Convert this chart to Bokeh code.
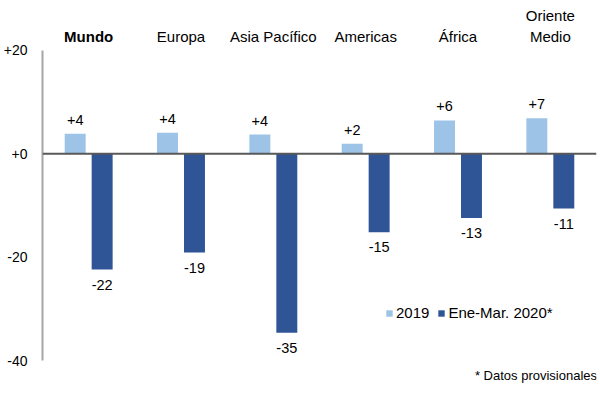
import numpy as np
from bokeh.plotting import figure
from bokeh.models import (Range1d, LinearAxis, FixedTicker, Span, Legend, LegendItem,
                          ColumnDataSource, Label)
from bokeh.core.properties import value
from bokeh.embed import file_html
from bokeh.resources import INLINE

categories = ["Mundo", "Europa", "Asia Pacífico", "Americas", "África", "Oriente\nMedio"]
cat_styles = ["bold", "normal", "normal", "normal", "normal", "normal"]
values_2019 = [3.87, 4.06, 3.73, 1.93, 6.45, 6.89]
values_2020 = [-22.4, -19.1, -34.6, -15.2, -12.4, -10.6]
labels_2019 = ["+4", "+4", "+4", "+2", "+6", "+7"]
labels_2020 = ["-22", "-19", "-35", "-15", "-13", "-11"]
series_names = ["2019", "Ene-Mar. 2020*"]
y_ticks = [-40, -20, 0, 20]
y_tick_labels = ["-40", "-20", "+0", "+20"]
footnote = "* Datos provisionales"

FONT = "Liberation Sans"
LIGHT = "#9dc3e6"
DARK = "#2f5597"

n = len(categories)
xc = np.arange(n) + 0.5
off = 0.146
bw = 0.227

p = figure(width=600, height=400, output_backend="svg", toolbar_location=None,
           x_range=Range1d(0, n), y_range=Range1d(-47.72, 29.65),
           min_border_left=40, min_border_right=4, min_border_top=0, min_border_bottom=0,
           x_axis_location=None, y_axis_location=None)
p.outline_line_color = None
p.xgrid.visible = False
p.ygrid.visible = False
p.background_fill_color = "white"
p.border_fill_color = "white"

yaxis = LinearAxis(ticker=FixedTicker(ticks=y_ticks), bounds=(-40, 20),
                   major_label_overrides={t: l for t, l in zip(y_ticks, y_tick_labels)})
yaxis.axis_line_color = "#a6a6a6"
yaxis.axis_line_width = 2
yaxis.major_tick_line_color = None
yaxis.minor_tick_line_color = None
yaxis.major_tick_out = 0
yaxis.major_tick_in = 0
yaxis.minor_tick_out = 0
yaxis.minor_tick_in = 0
yaxis.major_label_standoff = 15
yaxis.major_label_text_font = FONT
yaxis.major_label_text_font_size = "14px"
yaxis.major_label_text_color = "#000000"
p.add_layout(yaxis, "left")

src = ColumnDataSource(dict(x1=xc - off, x2=xc + off, v1=values_2019, v2=values_2020,
                            l1=labels_2019, l2=labels_2020, xc=xc,
                            cat=categories, style=cat_styles))

r1 = p.vbar(x="x1", top="v1", bottom=0, width=bw, source=src, fill_color=LIGHT, line_color=None)
r2 = p.vbar(x="x2", top=0, bottom="v2", width=bw, source=src, fill_color=DARK, line_color=None)

p.add_layout(Span(location=0, dimension="width", line_color="#595959", line_width=2))

p.text(x="x1", y="v1", text="l1", source=src, text_align="center", text_baseline="bottom",
       y_offset=-9, text_font=value(FONT), text_font_size="14.5px", text_color="#000000")
p.text(x="x2", y="v2", text="l2", source=src, text_align="center", text_baseline="top",
       y_offset=10, text_font=value(FONT), text_font_size="14.5px", text_color="#000000")

p.text(x="xc", y=21.1, text="cat", source=src, text_align="center", text_baseline="bottom",
       text_font=value(FONT), text_font_size="15px", text_font_style="style",
       text_color="#000000", text_line_height=1.2)

p.add_layout(Label(x=(474 - 40) / 92.67, y=-42.8, text=footnote, text_font=FONT,
                   text_font_size="13px", text_baseline="middle", text_color="#000000"))

legend = Legend(items=[LegendItem(label=series_names[0], renderers=[r1]),
                       LegendItem(label=series_names[1], renderers=[r2])],
                orientation="horizontal", location=(343, 79))
legend.glyph_width = 8
legend.glyph_height = 8
legend.label_standoff = 3
legend.spacing = 8
legend.padding = 0
legend.margin = 0
legend.label_height = 16
legend.border_line_alpha = 0
legend.background_fill_alpha = 0
legend.label_text_font = FONT
legend.label_text_font_size = "15px"
legend.label_text_color = "#000000"
p.add_layout(legend)

open("out.html", "w").write(file_html(p, INLINE))
